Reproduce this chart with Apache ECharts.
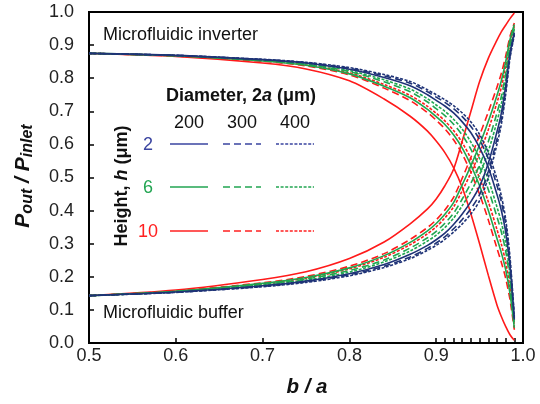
<!DOCTYPE html>
<html><head><meta charset="utf-8">
<script src="https://cdn.jsdelivr.net/npm/echarts@6/dist/echarts.min.js"></script>
<style>html,body{margin:0;padding:0;background:#fff}#c{width:540px;height:404px}</style>
</head><body><div id="c"></div>
<script>
// x positions (b / a)
const xValues = [0.5,0.6,0.7,0.75,0.8,0.84,0.87,0.89,0.9,0.91,0.92,0.93,0.94,0.95,0.96,0.97,0.975,0.98,0.985,0.99];

// Microfluidic inverter curves: P_out / P_inlet
const inv_h2_d200  = [0.875,0.869,0.856,0.846,0.827,0.802,0.777,0.750,0.733,0.716,0.695,0.668,0.635,0.590,0.531,0.449,0.401,0.336,0.232,0.071];
const inv_h2_d300  = [0.875,0.869,0.856,0.847,0.830,0.807,0.785,0.759,0.743,0.727,0.708,0.684,0.654,0.614,0.557,0.476,0.427,0.359,0.248,0.076];
const inv_h2_d400  = [0.875,0.869,0.857,0.848,0.832,0.811,0.790,0.765,0.750,0.735,0.717,0.695,0.668,0.630,0.575,0.495,0.445,0.375,0.260,0.080];
const inv_h6_d200  = [0.875,0.868,0.852,0.839,0.813,0.776,0.741,0.706,0.684,0.660,0.629,0.589,0.537,0.475,0.401,0.316,0.273,0.222,0.150,0.046];
const inv_h6_d300  = [0.875,0.868,0.854,0.842,0.820,0.789,0.759,0.728,0.708,0.687,0.661,0.628,0.585,0.531,0.464,0.381,0.336,0.278,0.190,0.058];
const inv_h6_d400  = [0.875,0.868,0.855,0.844,0.823,0.795,0.767,0.738,0.719,0.700,0.676,0.646,0.607,0.557,0.494,0.411,0.365,0.304,0.208,0.064];
const inv_h10_d200 = [0.875,0.866,0.846,0.828,0.792,0.737,0.685,0.640,0.610,0.575,0.530,0.470,0.390,0.300,0.205,0.115,0.080,0.050,0.025,0.008];
const inv_h10_d300 = [0.875,0.867,0.851,0.837,0.810,0.770,0.732,0.696,0.673,0.647,0.614,0.571,0.515,0.449,0.372,0.286,0.244,0.196,0.131,0.040];
const inv_h10_d400 = [0.875,0.868,0.853,0.840,0.816,0.781,0.748,0.715,0.694,0.671,0.642,0.605,0.557,0.498,0.427,0.343,0.299,0.245,0.166,0.051];

// Microfluidic buffer curves: P_out / P_inlet
const buf_h2_d200  = [0.143,0.154,0.173,0.187,0.209,0.237,0.268,0.295,0.312,0.332,0.358,0.390,0.427,0.473,0.543,0.638,0.694,0.775,0.874,0.938];
const buf_h2_d300  = [0.143,0.153,0.171,0.185,0.206,0.232,0.260,0.286,0.302,0.321,0.345,0.373,0.406,0.448,0.518,0.616,0.674,0.761,0.866,0.933];
const buf_h2_d400  = [0.143,0.153,0.170,0.183,0.203,0.228,0.255,0.280,0.295,0.313,0.335,0.360,0.390,0.430,0.500,0.600,0.660,0.750,0.860,0.930];
const buf_h6_d200  = [0.143,0.156,0.180,0.198,0.227,0.264,0.304,0.339,0.361,0.389,0.424,0.478,0.536,0.599,0.669,0.748,0.792,0.849,0.916,0.962];
const buf_h6_d300  = [0.143,0.155,0.177,0.193,0.219,0.251,0.287,0.318,0.337,0.362,0.392,0.435,0.483,0.538,0.608,0.695,0.744,0.813,0.896,0.950];
const buf_h6_d400  = [0.143,0.155,0.175,0.190,0.214,0.245,0.278,0.308,0.326,0.349,0.377,0.415,0.458,0.509,0.579,0.669,0.722,0.796,0.886,0.945];
const buf_h10_d200 = [0.143,0.160,0.192,0.215,0.255,0.305,0.360,0.405,0.435,0.475,0.525,0.610,0.700,0.790,0.860,0.915,0.940,0.960,0.980,0.997];
const buf_h10_d300 = [0.143,0.157,0.182,0.201,0.232,0.270,0.313,0.349,0.372,0.402,0.440,0.498,0.561,0.628,0.698,0.773,0.814,0.866,0.926,0.967];
const buf_h10_d400 = [0.143,0.156,0.179,0.196,0.224,0.259,0.297,0.330,0.351,0.378,0.411,0.460,0.514,0.574,0.644,0.726,0.772,0.834,0.908,0.957];

const heights = [2, 6, 10];
const diameters = [200, 300, 400];
const xTickLabels = ['0.5','0.6','0.7','0.8','0.9','1.0'];
const yTickLabels = ['0.0','0.1','0.2','0.3','0.4','0.5','0.6','0.7','0.8','0.9','1.0'];
const xTickValues = [0.5,0.6,0.7,0.8,0.9,0.91,0.92,0.93,0.94,0.95,0.96,0.97,0.98,0.99,1.0];

const curves = {
  inv: {2:{200:inv_h2_d200,300:inv_h2_d300,400:inv_h2_d400},6:{200:inv_h6_d200,300:inv_h6_d300,400:inv_h6_d400},10:{200:inv_h10_d200,300:inv_h10_d300,400:inv_h10_d400}},
  buf: {2:{200:buf_h2_d200,300:buf_h2_d300,400:buf_h2_d400},6:{200:buf_h6_d200,300:buf_h6_d300,400:buf_h6_d400},10:{200:buf_h10_d200,300:buf_h10_d300,400:buf_h10_d400}}
};

const colorOf = {2:'#1f3377', 6:'#1fa64f', 10:'#ff1a1a'};
const labelColorOf = {2:'#3a44a0', 6:'#22a552', 10:'#ff2020'};
const dashOf = {200:'solid', 300:[7,4], 400:[3,1.6]};
const FONT = 'Liberation Sans, Arial, sans-serif';

const series = [];
[10, 6, 2].forEach(h => {
  diameters.forEach(d => {
    ['inv','buf'].forEach(kind => {
      series.push({
        type:'line', name: kind+'_h'+h+'_d'+d,
        data: xValues.map((x,i)=>[x, curves[kind][h][d][i]]),
        showSymbol:false, smooth:0.3,
        lineStyle:{color:colorOf[h], width:1.6, type:dashOf[d]},
        z: 2, silent:true
      });
    });
  });
});

// legend table graphics
const graphics = [];
const colX = {200:[170,208], 300:[223,261], 400:[276,314]};
const colCenter = {200:189, 300:242, 400:295};
const rowY = {2:144, 6:187, 10:231};
const TS = 18;
graphics.push({type:'text', x:166, y:96, style:{text:'{b|Diameter, 2}{bi|a}{b| (μm)}', verticalAlign:'middle', align:'left',
  rich:{b:{fontSize:TS, fontWeight:'bold', fontFamily:FONT, fill:'#111'}, bi:{fontSize:TS, fontWeight:'bold', fontStyle:'italic', fontFamily:FONT, fill:'#111'}}}});
diameters.forEach(d => {
  graphics.push({type:'text', x:colCenter[d], y:123, style:{text:String(d), font:TS+'px '+FONT, fill:'#111', align:'center', verticalAlign:'middle'}});
});
heights.forEach(h => {
  graphics.push({type:'text', x:148, y:rowY[h]+1, style:{text:String(h), font:TS+'px '+FONT, fill:labelColorOf[h], align:'center', verticalAlign:'middle'}});
  diameters.forEach(d => {
    graphics.push({type:'line', shape:{x1:colX[d][0], y1:rowY[h], x2:colX[d][1], y2:rowY[h]},
      style:{stroke:labelColorOf[h], lineWidth:1.3, lineDash: d===200 ? null : dashOf[d]}});
  });
});
graphics.push({type:'text', x:122, y:186, rotation:Math.PI/2, style:{text:'{b|Height, }{bi|h}{b| (μm)}', align:'center', verticalAlign:'middle',
  rich:{b:{fontSize:TS, fontWeight:'bold', fontFamily:FONT, fill:'#111'}, bi:{fontSize:TS, fontWeight:'bold', fontStyle:'italic', fontFamily:FONT, fill:'#111'}}}});
graphics.push({type:'text', x:103, y:35, style:{text:'Microfluidic inverter', font:TS+'px '+FONT, fill:'#111', align:'left', verticalAlign:'middle'}});
graphics.push({type:'text', x:103, y:313, style:{text:'Microfluidic buffer', font:TS+'px '+FONT, fill:'#111', align:'left', verticalAlign:'middle'}});
// y axis title
graphics.push({type:'text', x:23, y:176, rotation:Math.PI/2, style:{text:'{p|P}{s|out}{p| / P}{s|inlet}', align:'center', verticalAlign:'middle',
  rich:{p:{fontSize:21, fontWeight:'bold', fontStyle:'italic', fontFamily:FONT, fill:'#111', lineHeight:26},
        s:{fontSize:16, fontWeight:'bold', fontStyle:'italic', fontFamily:FONT, fill:'#111', verticalAlign:'bottom'}}}});
// x axis title
graphics.push({type:'text', x:307, y:387, style:{text:'b / a', font:'italic bold 20.5px '+FONT, fill:'#111', align:'center', verticalAlign:'middle'}});

const chart = echarts.init(document.getElementById('c'), null, {renderer:'canvas'});
chart.setOption({
  animation:false,
  backgroundColor:'#fff',
  grid:{left:89, right:17, top:12, bottom:61, show:true, borderColor:'#000', borderWidth:2, backgroundColor:'transparent'},
  xAxis:{type:'value', min:0.5, max:1.0, interval:0.1,
    axisLine:{show:true, onZero:false, lineStyle:{color:'#000', width:2}},
    axisTick:{show:true, inside:true, length:5, lineStyle:{color:'#000', width:1.5}, customValues:xTickValues},
    axisLabel:{margin:4, fontSize:18, fontFamily:FONT, color:'#222', formatter:v => xTickLabels[Math.round((v-0.5)*10)]},
    splitLine:{show:false}},
  yAxis:{type:'value', min:0, max:1.0, interval:0.1,
    axisLine:{show:true, onZero:false, lineStyle:{color:'#000', width:2}},
    axisTick:{show:true, inside:true, length:5, lineStyle:{color:'#000', width:1.5}},
    axisLabel:{margin:15, fontSize:18, fontFamily:FONT, color:'#222', formatter:v => yTickLabels[Math.round(v*10)]},
    splitLine:{show:false}},
  series: series,
  graphic: graphics
});
</script></body></html>
